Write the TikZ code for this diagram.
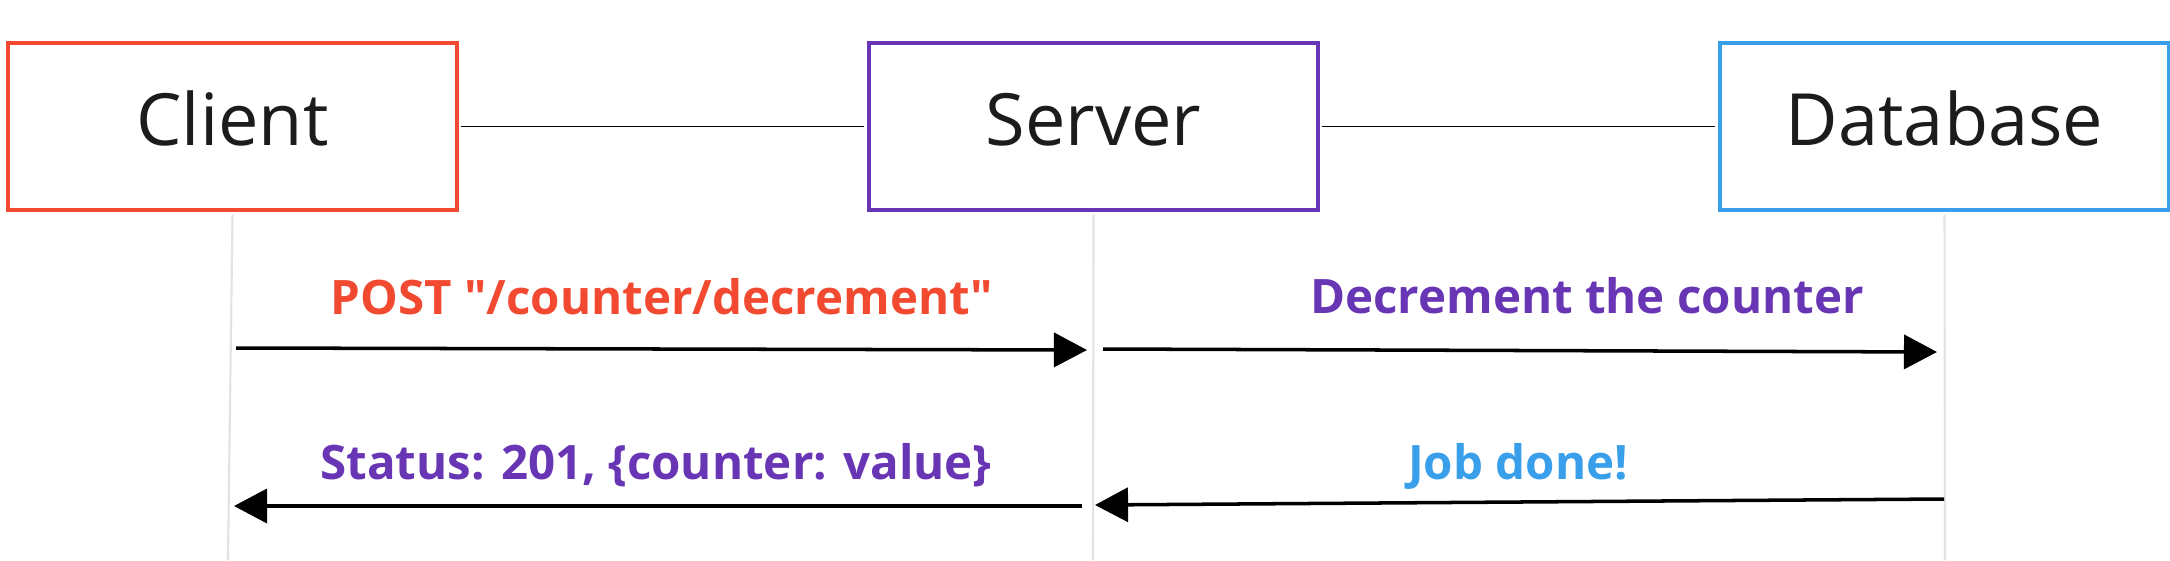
\documentclass[tikz,border=0pt]{standalone}
\usepackage{fontspec}
\setmainfont{Open Sans}[Ligatures=TeXOff]
\usetikzlibrary{arrows.meta,positioning,calc}
\definecolor{cli}{HTML}{F24A31}
\definecolor{srv}{HTML}{6836B4}
\definecolor{dbc}{HTML}{3A9FEA}
\definecolor{life}{HTML}{E2E2E2}
\definecolor{ink}{HTML}{1C1C1C}
\tikzset{actor/.style={draw,line width=1pt,fill=white,minimum width=4.49cm,minimum height=1.67cm,
    text height=.55cm,text depth=.18cm,text=ink,font=\fontsize{20.5}{24}\selectfont},
  msg/.style={line width=1pt,-{Triangle[length=9.4pt,width=9.7pt]}},
  lbl/.style={anchor=base,font=\fontsize{13.5}{16}\selectfont\bfseries},
  life/.style={draw=life,line width=.6pt},
  link/.style={draw=black,line width=.55pt}}
\begin{document}
\begin{tikzpicture}[x=.01cm,y=-.01cm]
\useasboundingbox (0,0) rectangle (2170,560);
% participants
\node[actor,draw=cli] (client) at (232.5,126.5) {Client};
\node[actor,draw=srv] (server) at (1093.5,126.5) {Server};
\node[actor,draw=dbc] (db) at (1944.5,126.5) {Database};
\draw[link] (client.east) ++(2,0) -- ($(server.west)+(-3,0)$);
\draw[link] (server.east) ++(2,0) -- ($(db.west)+(-3,0)$);
% lifelines
\coordinate (cend) at (228,560);
\coordinate (send) at (1093,560);
\coordinate (dend) at (1945,560);
\foreach \p/\e in {client/cend,server/send,db/dend}
  \draw[life] (\p.south) ++(0,3) -- (\e);
% messages
\coordinate (a1s) at (236,348); \coordinate (a1e) at (1087,350);
\coordinate (a2s) at (1103,349); \coordinate (a2e) at (1937,352);
\coordinate (a3s) at (1944,499); \coordinate (a3e) at (1095,505);
\coordinate (a4s) at (1082,506); \coordinate (a4e) at (234,506);
\draw[msg] (a1s) -- (a1e);
\draw[msg] (a2s) -- (a2e);
\draw[msg] (a3s) -- (a3e);
\draw[msg] (a4s) -- (a4e);
\node[lbl,text=cli] (l1) at (662,314) {POST "/counter/decrement"};
\node[lbl,text=srv] (l2) at (1587,313) {Decrement the counter};
\node[lbl,text=dbc] (l3) at (1518,479) {Job done!};
\node[lbl,text=srv] (l4) at (656,479) {Status: 201, \{counter: value\}};
\end{tikzpicture}
\end{document}
